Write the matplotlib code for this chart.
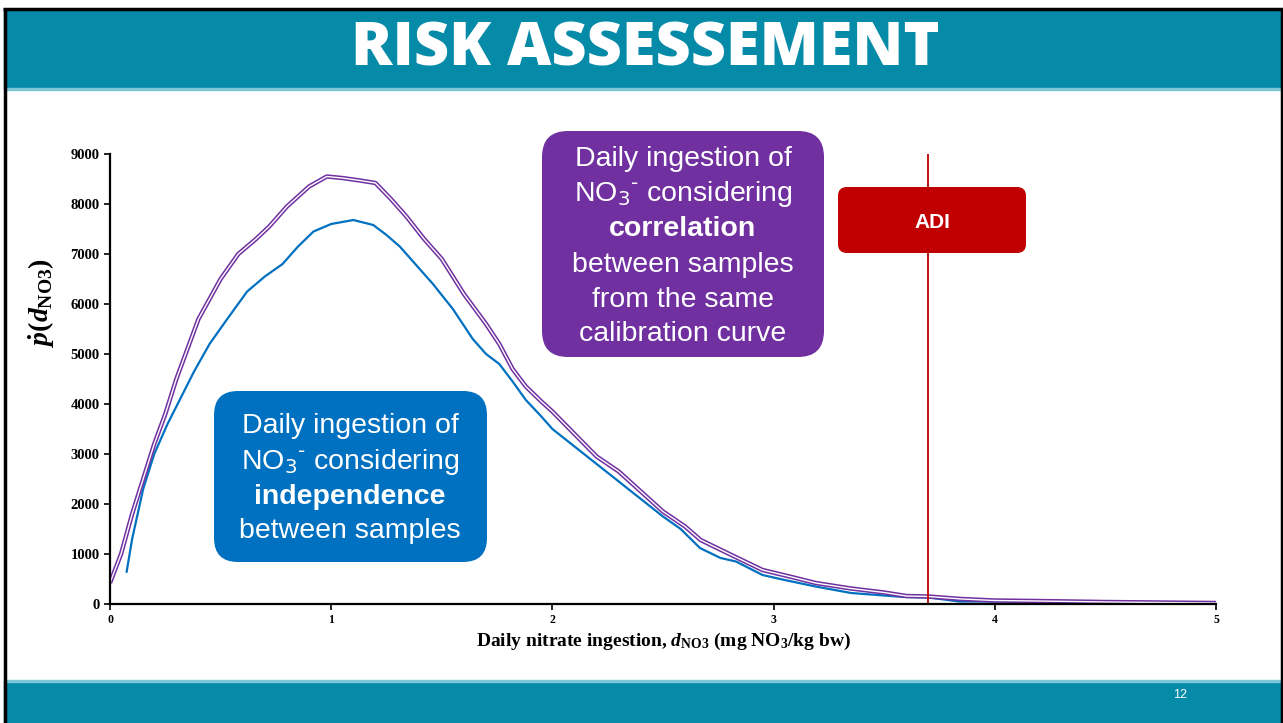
import matplotlib
matplotlib.use("Agg")
import matplotlib.pyplot as plt
from matplotlib.patches import FancyBboxPatch, Rectangle

plt.rcParams['mathtext.fontset'] = 'custom'
plt.rcParams['mathtext.rm'] = 'Liberation Serif:bold'
plt.rcParams['mathtext.it'] = 'Liberation Serif:italic:bold'
plt.rcParams['mathtext.bf'] = 'Liberation Serif:bold'

# correlated samples (purple)
corr_x = [0, 0.05, 0.1, 0.15, 0.2, 0.25, 0.3, 0.4, 0.5, 0.58, 0.66, 0.72, 0.8, 0.9, 0.98,
          1.05, 1.13, 1.2, 1.27, 1.34, 1.42, 1.5, 1.6, 1.7, 1.76, 1.82, 1.88, 1.95, 2.0,
          2.1, 2.2, 2.3, 2.4, 2.5, 2.6, 2.67, 2.8, 2.95, 3.1, 3.19, 3.35, 3.5, 3.6, 3.7,
          3.85, 4.0, 4.2, 4.5, 5.0]
corr_y = [420, 1000, 1800, 2500, 3200, 3800, 4500, 5700, 6500, 7000, 7300, 7550, 7950, 8350, 8550,
          8520, 8470, 8420, 8100, 7750, 7300, 6900, 6200, 5600, 5200, 4700, 4350, 4050, 3850,
          3400, 2950, 2650, 2250, 1850, 1550, 1280, 1000, 680, 520, 420, 310, 230, 160, 150,
          100, 70, 60, 40, 20]

# independent samples (blue)
indep_x = [0.075, 0.1, 0.15, 0.2, 0.26, 0.3, 0.38, 0.45, 0.53, 0.62, 0.7, 0.78, 0.85, 0.92, 1.0,
           1.1, 1.19, 1.25, 1.31, 1.38, 1.46, 1.55, 1.64, 1.7, 1.76, 1.82, 1.88, 1.95, 2.0,
           2.1, 2.2, 2.3, 2.4, 2.5, 2.58, 2.667, 2.76, 2.83, 2.95, 3.05, 3.19, 3.35, 3.59,
           3.7, 3.84, 4.0, 4.2, 4.5, 5.0]
indep_y = [640, 1300, 2300, 3000, 3600, 3950, 4650, 5200, 5700, 6250, 6550, 6800, 7150, 7450, 7600,
           7680, 7580, 7380, 7150, 6800, 6400, 5900, 5300, 5000, 4800, 4450, 4080, 3750, 3500,
           3150, 2800, 2450, 2100, 1750, 1500, 1120, 920, 850, 580, 480, 350, 220, 140,
           130, 50, 50, 40, 25, 10]

adi = 3.7
x_ticks = [0, 1, 2, 3, 4, 5]
y_ticks = [0, 1000, 2000, 3000, 4000, 5000, 6000, 7000, 8000, 9000]

W, H = 1283, 723
fig = plt.figure(figsize=(W / 100, H / 100), dpi=100)
fig.patch.set_facecolor('white')


def px(x0, y0, x1, y1):
    return [x0 / W, 1 - y1 / H, (x1 - x0) / W, (y1 - y0) / H]


ax = fig.add_axes(px(110, 154, 1216, 604))
ax.plot(indep_x, indep_y, color='#0070C0', lw=1.6, solid_capstyle='round')
ax.plot(corr_x, corr_y, color='#7030A0', lw=3.2, solid_capstyle='butt')
ax.plot(corr_x, corr_y, color='white', lw=1.0, solid_capstyle='butt')
ax.axvline(adi, color='#C00000', lw=1.3)

ax.set_xlim(0, 5)
ax.set_ylim(0, 9000)
ax.set_xticks(x_ticks)
ax.set_yticks(y_ticks)
for s in ['top', 'right']:
    ax.spines[s].set_visible(False)
for s in ['left', 'bottom']:
    ax.spines[s].set_linewidth(1.6)
ax.tick_params(axis='both', direction='out', length=4, width=1.2)
ax.tick_params(axis='x', pad=3)
for lab in ax.get_yticklabels():
    lab.set_fontfamily('Liberation Serif')
    lab.set_fontweight('bold')
    lab.set_fontsize(10.5)
for lab in ax.get_xticklabels():
    lab.set_fontfamily('Liberation Serif')
    lab.set_fontweight('bold')
    lab.set_fontsize(8.5)

# overlay in pixel coordinates for slide decorations
ov = fig.add_axes([0, 0, 1, 1], zorder=5)
ov.set_xlim(0, W)
ov.set_ylim(H, 0)
ov.axis('off')

teal = '#058AA8'
ov.add_patch(Rectangle((4, 10), W, 78, color=teal))
ov.add_patch(Rectangle((4, 88), W, 2, color='#7FC6D6'))
ov.add_patch(Rectangle((4, 682), W, 45, color=teal))
ov.add_patch(Rectangle((4, 680), W, 2, color='#7FC6D6'))
ov.plot([3, W], [8.5, 8.5], color='black', lw=2.5, solid_capstyle='butt')
ov.plot([4.5, 4.5], [8, H], color='black', lw=2.5, solid_capstyle='butt')
ov.plot([1281.5, 1281.5], [8, H], color='black', lw=2.5, solid_capstyle='butt')

ov.text(645, 50, 'RISK ASSESSEMENT', color='white', fontsize=44,
        fontfamily='Open Sans', fontweight='heavy', ha='center', va='center')
ov.text(1180, 695, '12', color='white', fontsize=9, fontfamily='Liberation Sans',
        ha='center', va='center')

# axis labels
ov.text(663, 641, r'Daily nitrate ingestion, $d_{\mathrm{NO3}}$ (mg NO$_{3}$/kg bw)',
        fontfamily='Liberation Serif', fontweight='bold', fontsize=14,
        ha='center', va='center')
ov.text(42, 303, r'$\dot{p}(d_{\mathrm{NO3}})$', fontsize=20, rotation=90,
        ha='center', va='center')

# callout boxes
ov.add_patch(FancyBboxPatch((542, 131), 282, 226, boxstyle='round,pad=0,rounding_size=26',
                            fc='#7030A0', ec='none'))
ov.add_patch(FancyBboxPatch((214, 391), 273, 171, boxstyle='round,pad=0,rounding_size=24',
                            fc='#0070C0', ec='none'))
ov.add_patch(FancyBboxPatch((838, 187), 188, 66, boxstyle='round,pad=0,rounding_size=9',
                            fc='#C00000', ec='none'))
ov.text(932, 222, 'ADI', color='white', fontsize=15, fontweight='bold',
        fontfamily='Liberation Sans', ha='center', va='center')

no3 = 'NO$_3$$^{\u2010}$ considering'
purple_lines = [('Daily ingestion of', 'normal', 159),
                (no3, 'normal', 194),
                ('correlation', 'bold', 229),
                ('between samples', 'normal', 265),
                ('from the same', 'normal', 300),
                ('calibration curve', 'normal', 334)]
for txt, wt, yy in purple_lines:
    ov.text(683, yy, txt, color='white', fontsize=20.5, fontweight=wt,
            fontfamily='Liberation Sans', math_fontfamily='dejavusans',
            ha='center', va='center')

blue_lines = [('Daily ingestion of', 'normal', 426),
              (no3, 'normal', 462),
              ('independence', 'bold', 497),
              ('between samples', 'normal', 531)]
for txt, wt, yy in blue_lines:
    ov.text(350, yy, txt, color='white', fontsize=20.5, fontweight=wt,
            fontfamily='Liberation Sans', math_fontfamily='dejavusans',
            ha='center', va='center')

fig.savefig('out.png', dpi=100)
